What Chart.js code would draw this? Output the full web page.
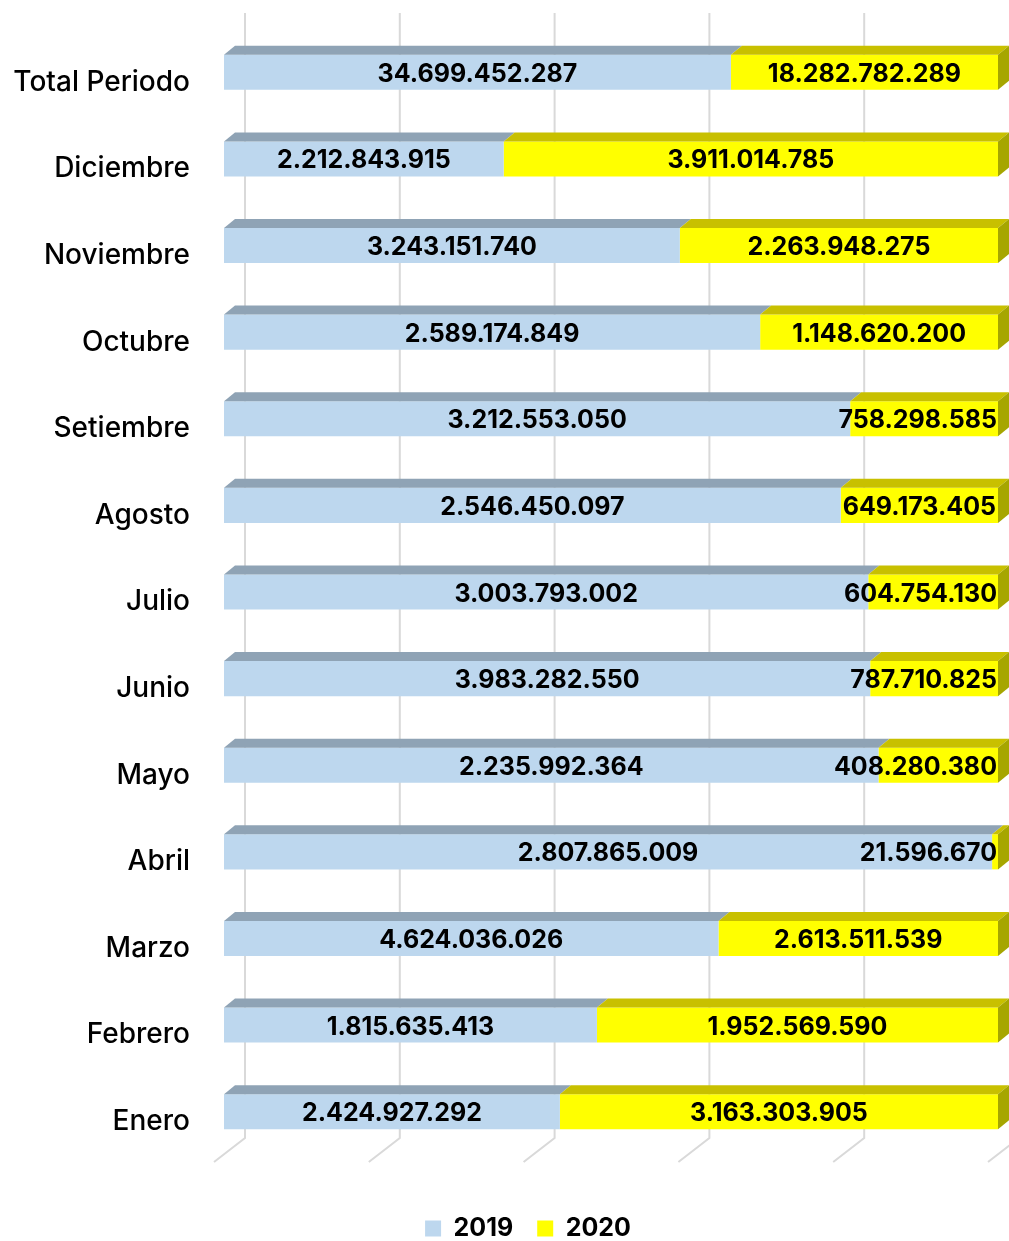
<!DOCTYPE html>
<html>
<head>
<meta charset="utf-8">
<script src="https://cdn.jsdelivr.net/npm/chart.js@4.4.0/dist/chart.umd.min.js"></script>
<style>
  html, body { margin: 0; padding: 0; background: #fff; overflow: hidden; }
  #wrap { position: relative; width: 1009px; height: 1251px; }
</style>
</head>
<body>
<div id="wrap"><canvas id="chart"></canvas></div>
<script>
const months = ['Total Periodo', 'Diciembre', 'Noviembre', 'Octubre', 'Setiembre', 'Agosto',
  'Julio', 'Junio', 'Mayo', 'Abril', 'Marzo', 'Febrero', 'Enero'];
const values2019 = [34699452287, 2212843915, 3243151740, 2589174849, 3212553050, 2546450097,
  3003793002, 3983282550, 2235992364, 2807865009, 4624036026, 1815635413, 2424927292];
const values2020 = [18282782289, 3911014785, 2263948275, 1148620200, 758298585, 649173405,
  604754130, 787710825, 408280380, 21596670, 2613511539, 1952569590, 3163303905];
const seriesNames = ['2019', '2020'];
const gridSteps = [0, 0.2, 0.4, 0.6, 0.8, 1];

// 100% stacked: each bar shows the share of the month total
const share = (a, b) => a.map((v, i) => v / (v + b[i]));
const share2019 = share(values2019, values2020);
const share2020 = share(values2020, values2019);

const fmt = n => String(n).replace(/\B(?=(\d{3})+(?!\d))/g, '.');

const DX = 11, DY = 9;          // depth of the 3d bars
const numFont = '700 25px Inter';

const depthPlugin = {
  id: 'depth',
  afterLayout(chart) {
    // legend sits a bit right of the canvas centre
    chart.legend.left += 29;
    chart.legend.right += 29;
  },
  beforeDatasetsDraw(chart) {
    const ctx = chart.ctx;
    const xs = chart.scales.x;
    const area = chart.chartArea;
    ctx.save();
    ctx.strokeStyle = '#d9d9d9';
    ctx.lineWidth = 2;
    gridSteps.forEach(v => {
      const x = xs.getPixelForValue(v);
      ctx.beginPath();
      ctx.moveTo(x + 21, 13);
      ctx.lineTo(x + 21, area.bottom - 17);
      ctx.lineTo(x - 10, area.bottom + 7);
      ctx.stroke();
    });
    ctx.restore();
  },
  afterDatasetsDraw(chart) {
    const ctx = chart.ctx;
    ctx.save();
    chart.data.datasets.forEach((ds, di) => {
      const meta = chart.getDatasetMeta(di);
      meta.data.forEach(bar => {
        const { x, y, base, height } = bar.getProps(['x', 'y', 'base', 'height'], true);
        const top = y - height / 2, bot = y + height / 2;
        ctx.fillStyle = ds.topColor;
        ctx.beginPath();
        ctx.moveTo(base, top);
        ctx.lineTo(base + DX, top - DY);
        ctx.lineTo(x + DX, top - DY);
        ctx.lineTo(x, top);
        ctx.closePath();
        ctx.fill();
        if (di === chart.data.datasets.length - 1) {
          ctx.fillStyle = ds.sideColor;
          ctx.beginPath();
          ctx.moveTo(x, top);
          ctx.lineTo(x + DX, top - DY);
          ctx.lineTo(x + DX, bot - DY);
          ctx.lineTo(x, bot);
          ctx.closePath();
          ctx.fill();
        }
      });
    });

    // value labels
    ctx.font = numFont;
    ctx.fillStyle = '#000';
    ctx.textBaseline = 'middle';
    ctx.textAlign = 'center';
    const right = chart.chartArea.right;
    chart.data.datasets.forEach((ds, di) => {
      const meta = chart.getDatasetMeta(di);
      meta.data.forEach((bar, i) => {
        const { x, y, base } = bar.getProps(['x', 'y', 'base'], true);
        const txt = fmt(ds.raw[i]);
        const w = ctx.measureText(txt).width;
        let cx = (x + base) / 2;
        if (cx + w / 2 > right - 1) cx = right - 1 - w / 2;
        ctx.fillText(txt, cx, y + 2);
      });
    });
    ctx.restore();
  }
};

new Chart(document.getElementById('chart'), {
  type: 'bar',
  data: {
    labels: months,
    datasets: [
      { label: seriesNames[0], data: share2019, raw: values2019,
        backgroundColor: '#bdd7ee', topColor: '#8fa3b5', sideColor: '#7f93a5' },
      { label: seriesNames[1], data: share2020, raw: values2020,
        backgroundColor: '#ffff00', topColor: '#c8c000', sideColor: '#a6a600' }
    ]
  },
  options: {
    indexAxis: 'y',
    responsive: true,
    maintainAspectRatio: false,
    animation: false,
    events: [],
    layout: { padding: { top: 29, right: 11, left: 0, bottom: 0 } },
    datasets: { bar: { categoryPercentage: 1, barPercentage: 0.405 } },
    scales: {
      x: { stacked: true, min: 0, max: 1, display: false },
      y: {
        stacked: true,
        grid: { display: false, drawTicks: false },
        border: { display: false },
        afterFit: s => { s.width = 224; s.paddingTop = 0; s.paddingBottom = 0; },
        ticks: {
          color: '#000',
          padding: 34,
          labelOffset: 10,
          font: { family: 'Inter', size: 28, weight: '500' }
        }
      }
    },
    plugins: {
      tooltip: { enabled: false },
      legend: {
        position: 'bottom',
        title: { display: true, text: '', font: { size: 10 }, padding: { top: 25, bottom: 0 } },
        labels: {
          color: '#000',
          boxWidth: 16,
          boxHeight: 16,
          padding: 24,
          font: { family: 'Inter', size: 25, weight: '700' }
        }
      }
    }
  },
  plugins: [depthPlugin]
});
</script>
</body>
</html>
